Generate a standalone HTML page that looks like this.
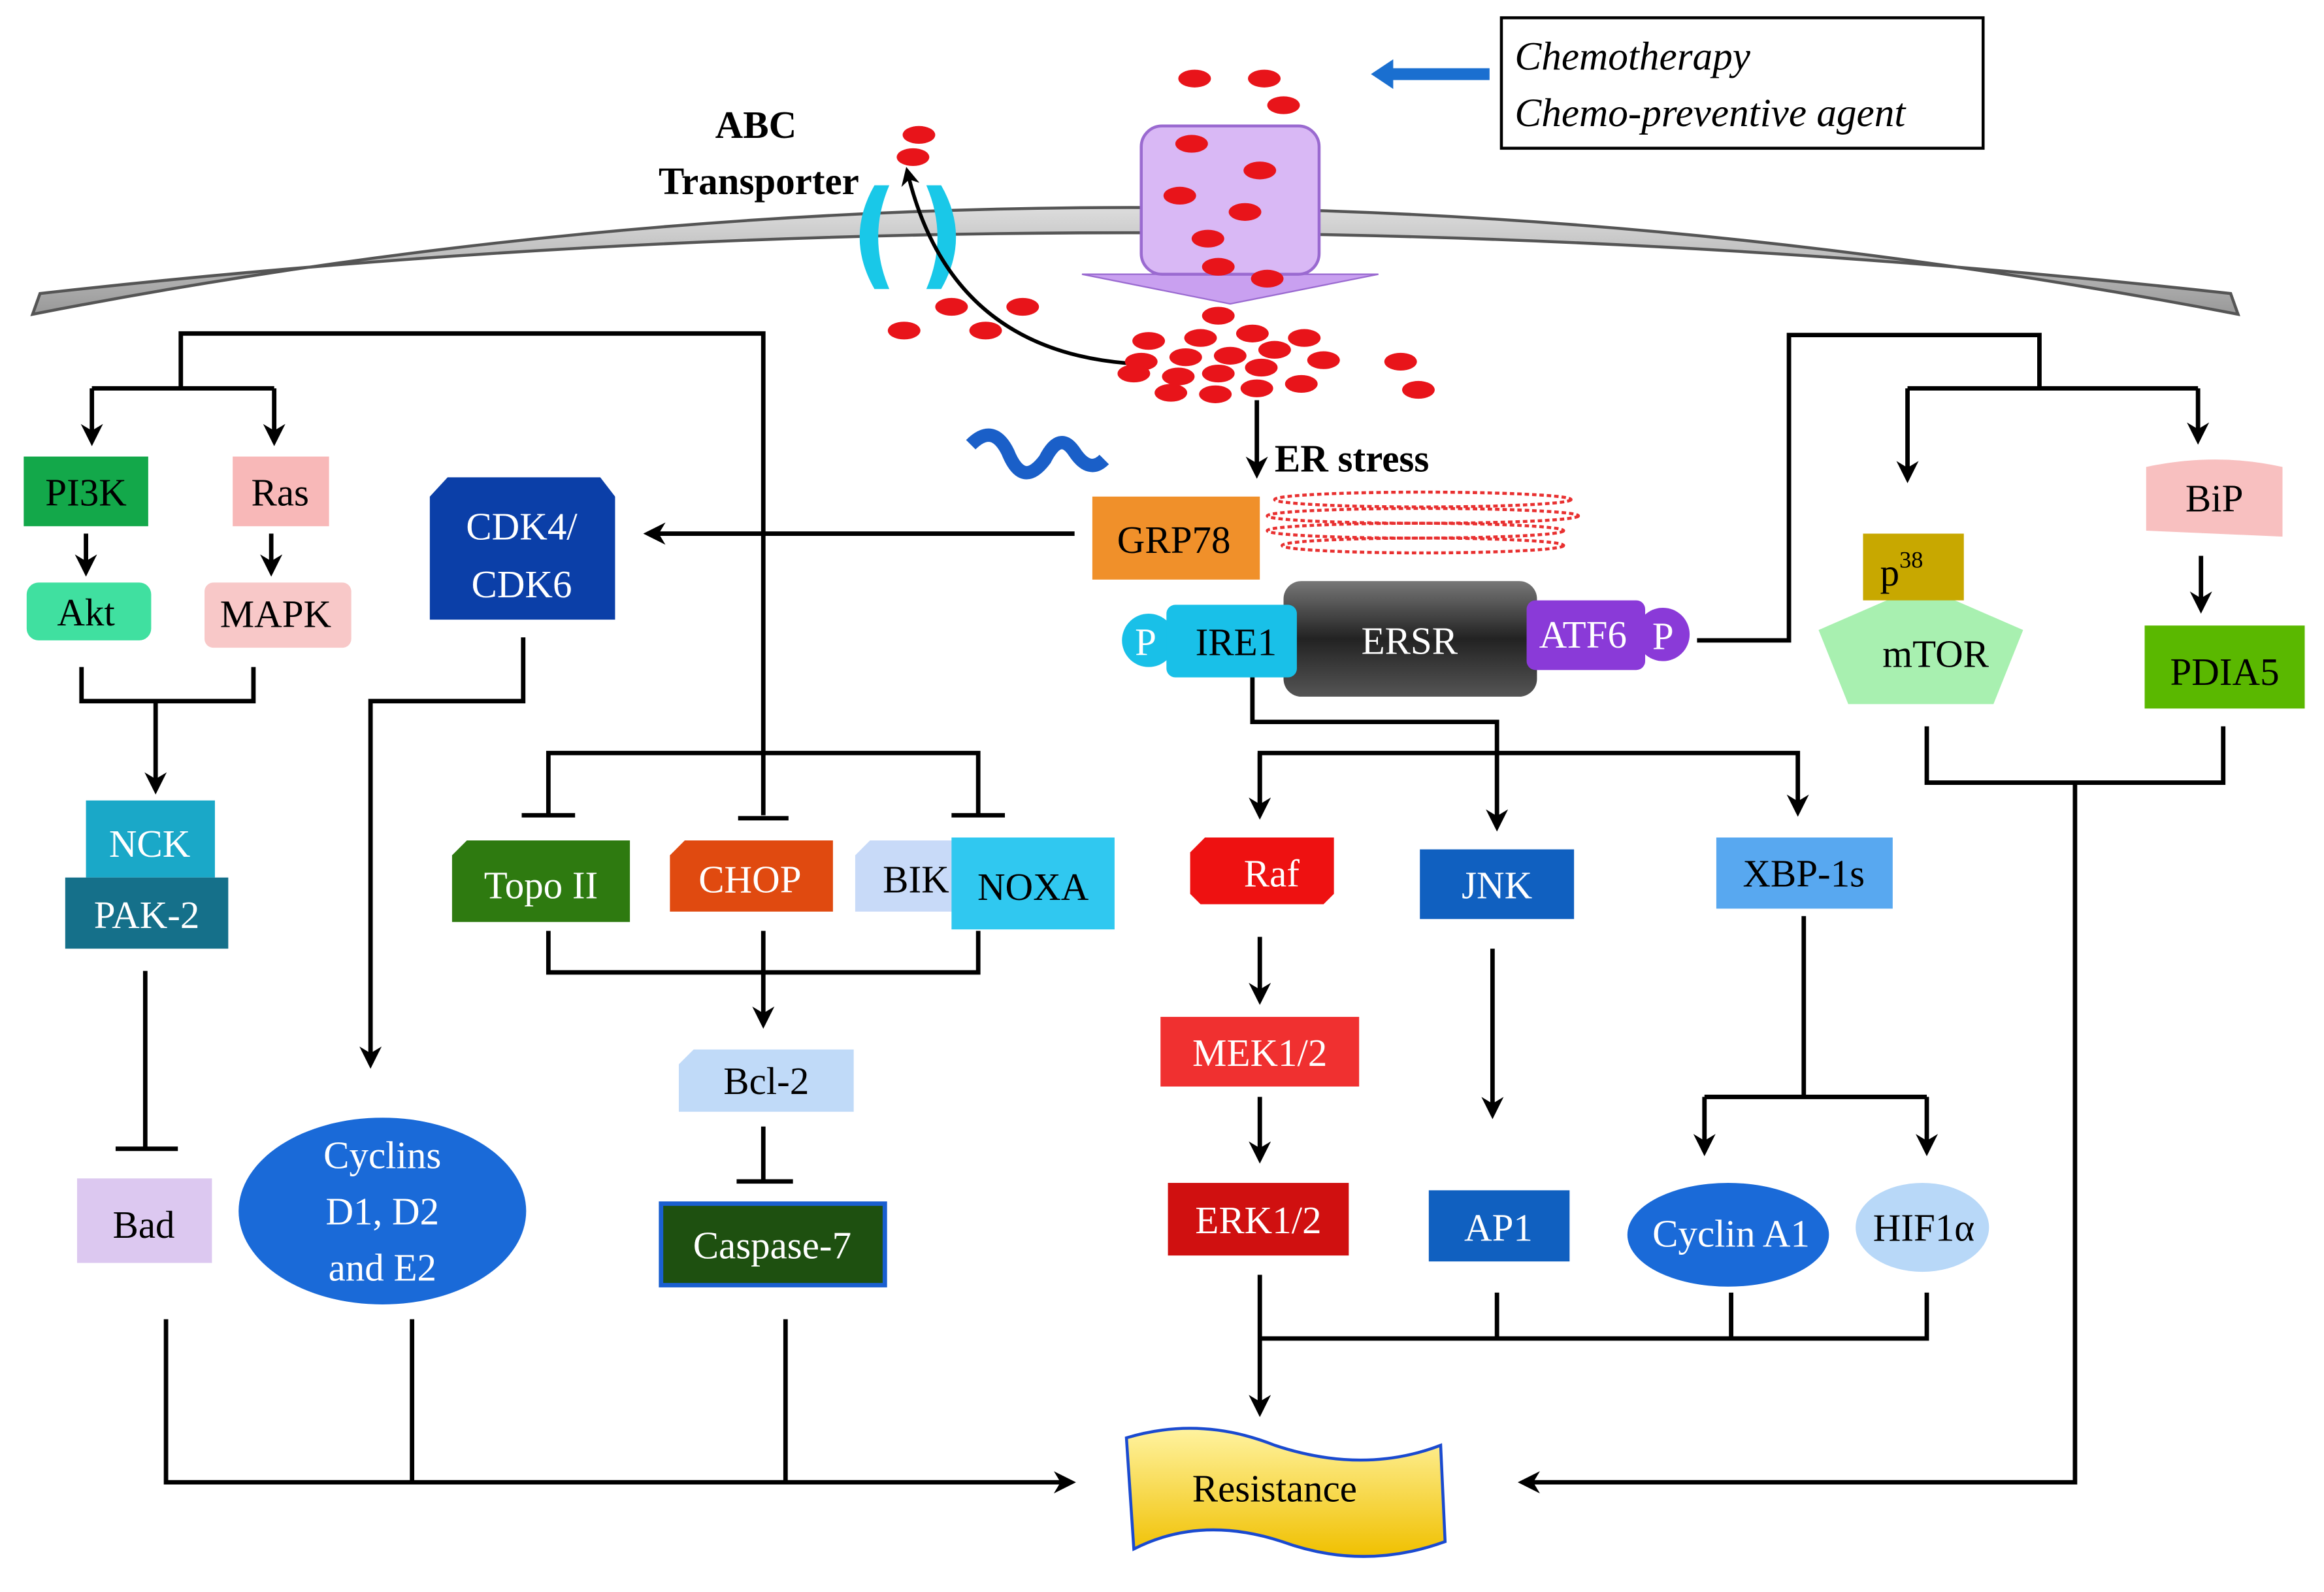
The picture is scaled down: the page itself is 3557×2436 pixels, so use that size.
<!DOCTYPE html>
<html><head><meta charset="utf-8"><style>
html,body{margin:0;padding:0;background:#fff;}
svg{display:block;}
text{font-family:"Liberation Serif",serif;}
</style></head><body>
<svg width="3557" height="2436" viewBox="0 0 1568 1074" preserveAspectRatio="none" xmlns="http://www.w3.org/2000/svg">
<defs>
<marker id="a" viewBox="0 0 10 10" refX="8" refY="5" markerWidth="5" markerHeight="5" orient="auto"><path d="M0,0 L10,5 L0,10 L3,5 z" fill="#000"/></marker>
<linearGradient id="mem" x1="0" y1="0" x2="0" y2="1"><stop offset="0" stop-color="#ddd"/><stop offset="1" stop-color="#999"/></linearGradient>
<linearGradient id="ersr" x1="0" y1="0" x2="0" y2="1"><stop offset="0" stop-color="#777"/><stop offset=".5" stop-color="#222"/><stop offset="1" stop-color="#555"/></linearGradient>
<linearGradient id="res" x1="0" y1="0" x2="0" y2="1"><stop offset="0" stop-color="#fff3a0"/><stop offset="1" stop-color="#f0c000"/></linearGradient>
</defs>
<path d="M22,212 Q760,68 1510,212 L1505,198 Q760,116 27,198 Z" fill="url(#mem)" stroke="#555" stroke-width="2"/>
<rect x="1013" y="12" width="325" height="88" fill="#fff" stroke="#000" stroke-width="2"/>
<text x="1022" y="47" font-size="27" font-style="italic">Chemotherapy</text>
<text x="1022" y="85" font-size="27" font-style="italic">Chemo-preventive agent</text>
<path d="M1005,46 L940,46 L940,40 L925,50 L940,60 L940,54 L1005,54 Z" fill="#1a6fd0"/>
<path d="M730,185 L930,185 L830,205 Z" fill="#c9a0f0" stroke="#9a6ad0"/>
<rect x="770" y="85" width="120" height="100" rx="14" fill="#d9b8f5" stroke="#9a6ad0" stroke-width="2"/>
<text x="510" y="93" font-size="26" font-weight="bold" text-anchor="middle">ABC</text>
<text x="512" y="131" font-size="26" font-weight="bold" text-anchor="middle">Transporter</text>
<path d="M590,125 Q570,160 590,195 L600,195 Q585,160 600,125 Z" fill="#19c8e8"/>
<path d="M635,125 Q655,160 635,195 L625,195 Q640,160 625,125 Z" fill="#19c8e8"/>
<path d="M760,245 Q640,235 612,115" fill="none" stroke="#000" stroke-width="2.5" marker-end="url(#a)"/>
<g fill="#e8141a">
<ellipse cx="806" cy="53" rx="11" ry="6"/><ellipse cx="853" cy="53" rx="11" ry="6"/><ellipse cx="866" cy="71" rx="11" ry="6"/>
<ellipse cx="620" cy="91" rx="11" ry="6"/><ellipse cx="616" cy="106" rx="11" ry="6"/>
<ellipse cx="804" cy="97" rx="11" ry="6"/><ellipse cx="850" cy="115" rx="11" ry="6"/><ellipse cx="796" cy="132" rx="11" ry="6"/>
<ellipse cx="840" cy="143" rx="11" ry="6"/><ellipse cx="815" cy="161" rx="11" ry="6"/><ellipse cx="822" cy="180" rx="11" ry="6"/><ellipse cx="855" cy="188" rx="11" ry="6"/>
<ellipse cx="642" cy="207" rx="11" ry="6"/><ellipse cx="690" cy="207" rx="11" ry="6"/><ellipse cx="610" cy="223" rx="11" ry="6"/><ellipse cx="665" cy="223" rx="11" ry="6"/>
<ellipse cx="822" cy="213" rx="11" ry="6"/><ellipse cx="775" cy="230" rx="11" ry="6"/><ellipse cx="810" cy="228" rx="11" ry="6"/><ellipse cx="845" cy="225" rx="11" ry="6"/><ellipse cx="880" cy="228" rx="11" ry="6"/>
<ellipse cx="770" cy="244" rx="11" ry="6"/><ellipse cx="800" cy="241" rx="11" ry="6"/><ellipse cx="830" cy="240" rx="11" ry="6"/><ellipse cx="860" cy="236" rx="11" ry="6"/>
<ellipse cx="765" cy="252" rx="11" ry="6"/><ellipse cx="795" cy="254" rx="11" ry="6"/><ellipse cx="822" cy="252" rx="11" ry="6"/><ellipse cx="851" cy="248" rx="11" ry="6"/><ellipse cx="893" cy="243" rx="11" ry="6"/>
<ellipse cx="790" cy="265" rx="11" ry="6"/><ellipse cx="820" cy="266" rx="11" ry="6"/><ellipse cx="848" cy="262" rx="11" ry="6"/><ellipse cx="878" cy="259" rx="11" ry="6"/>
<ellipse cx="945" cy="244" rx="11" ry="6"/><ellipse cx="957" cy="263" rx="11" ry="6"/>
</g>
<g fill="none" stroke="#000" stroke-width="3">
<path d="M122,262 L122,225 L515,225 L515,550"/><path d="M498,552 L532,552"/>
<path d="M62,262 L185,262"/><path d="M62,262 L62,298" marker-end="url(#a)"/><path d="M185,262 L185,298" marker-end="url(#a)"/>
<path d="M58,360 L58,386" marker-end="url(#a)"/><path d="M183,360 L183,386" marker-end="url(#a)"/>
<path d="M55,450 L55,473 L171,473 L171,450"/><path d="M105,473 L105,533" marker-end="url(#a)"/>
<path d="M98,655 L98,775"/><path d="M78,775 L120,775"/>
<path d="M725,360 L437,360" marker-end="url(#a)"/>
<path d="M353,430 L353,473 L250,473 L250,718" marker-end="url(#a)"/>
<path d="M370,550 L370,508 L660,508 L660,550"/><path d="M352,550 L388,550"/><path d="M642,550 L678,550"/>
<path d="M370,628 L370,656 L660,656 L660,628"/><path d="M515,628 L515,691" marker-end="url(#a)"/>
<path d="M515,760 L515,797"/><path d="M497,797 L535,797"/>
<path d="M112,890 L112,1000 L723,1000" marker-end="url(#a)"/><path d="M278,890 L278,1000"/><path d="M530,890 L530,1000"/>
<path d="M1300,490 L1300,528 L1500,528 L1500,490"/><path d="M1400,528 L1400,1000 L1027,1000" marker-end="url(#a)"/>
<path d="M850,860 L850,953" marker-end="url(#a)"/><path d="M850,903 L1300,903 L1300,872"/><path d="M1010,903 L1010,872"/><path d="M1168,903 L1168,872"/>
<path d="M848,270 L848,320" marker-end="url(#a)"/>
<path d="M1145,432 L1207,432 L1207,226 L1376,226 L1376,262"/><path d="M1287,262 L1483,262"/>
<path d="M1287,262 L1287,323" marker-end="url(#a)"/><path d="M1483,262 L1483,297" marker-end="url(#a)"/>
<path d="M1485,375 L1485,411" marker-end="url(#a)"/>
<path d="M845,457 L845,487 L1010,487 L1010,558" marker-end="url(#a)"/>
<path d="M850,550 L850,508 L1213,508 L1213,548" marker-end="url(#a)"/><path d="M850,508 L850,550" marker-end="url(#a)"/>
<path d="M850,632 L850,675" marker-end="url(#a)"/><path d="M850,740 L850,782" marker-end="url(#a)"/>
<path d="M1007,640 L1007,752" marker-end="url(#a)"/>
<path d="M1217,618 L1217,740"/><path d="M1150,740 L1300,740"/><path d="M1150,740 L1150,777" marker-end="url(#a)"/><path d="M1300,740 L1300,777" marker-end="url(#a)"/>
</g>
<path d="M655,300 Q670,285 680,305 Q690,330 705,310 Q715,290 725,305 Q735,320 745,310" fill="none" stroke="#1a5fc8" stroke-width="9"/>
<g fill="none" stroke="#e83030" stroke-width="2" stroke-dasharray="3,2">
<ellipse cx="960" cy="337" rx="100" ry="5"/><ellipse cx="960" cy="348" rx="105" ry="5"/><ellipse cx="955" cy="358" rx="100" ry="5"/><ellipse cx="960" cy="368" rx="95" ry="5"/>
</g>
<text x="860" y="318" font-size="26" font-weight="bold">ER stress</text>
<g font-size="26" text-anchor="middle">
<rect x="16" y="308" width="84" height="47" fill="#13a84a"/><text x="58" y="341">PI3K</text>
<rect x="157" y="308" width="65" height="47" fill="#f8b8b8"/><text x="189" y="341">Ras</text>
<rect x="18" y="393" width="84" height="39" rx="8" fill="#40e0a0"/><text x="58" y="422">Akt</text>
<rect x="138" y="393" width="99" height="44" rx="6" fill="#f8c8c8"/><text x="186" y="423">MAPK</text>
<rect x="58" y="540" width="87" height="52" fill="#1aa8c8"/><text x="101" y="578" fill="#fff">NCK</text>
<rect x="44" y="592" width="110" height="48" fill="#15708a"/><text x="99" y="626" fill="#fff">PAK-2</text>
<rect x="52" y="795" width="91" height="57" fill="#dcc8f0"/><text x="97" y="835">Bad</text>
<path d="M302,322 L405,322 L415,335 L415,418 L290,418 L290,335 Z" fill="#0b3fa8"/><text x="352" y="364" fill="#fff">CDK4/</text><text x="352" y="403" fill="#fff">CDK6</text>
<ellipse cx="258" cy="817" rx="97" ry="63" fill="#1a6ad8"/><text x="258" y="788" fill="#fff">Cyclins</text><text x="258" y="826" fill="#fff">D1, D2</text><text x="258" y="864" fill="#fff">and E2</text>
<path d="M315,567 L425,567 L425,622 L305,622 L305,577 Z" fill="#2e7a10"/><text x="365" y="606" fill="#fff">Topo II</text>
<path d="M462,567 L562,567 L562,615 L452,615 L452,577 Z" fill="#e04a10"/><text x="506" y="602" fill="#fff">CHOP</text>
<path d="M587,567 L645,567 L645,615 L577,615 L577,577 Z" fill="#c8daf8"/><text x="618" y="602">BIK</text>
<rect x="642" y="565" width="110" height="62" fill="#30c8f0"/><text x="697" y="607">NOXA</text>
<path d="M468,708 L576,708 L576,750 L458,750 L458,718 Z" fill="#c0daf8"/><text x="517" y="738">Bcl-2</text>
<rect x="446" y="812" width="151" height="55" fill="#1e5010" stroke="#1a5fd0" stroke-width="3"/><text x="521" y="849" fill="#fff">Caspase-7</text>
<path d="M760,970 Q810,955 860,975 Q920,995 972,975 L975,1040 Q920,1060 865,1040 Q810,1022 765,1045 Z" fill="url(#res)" stroke="#1a4ad0" stroke-width="2"/><text x="860" y="1013">Resistance</text>
<rect x="737" y="335" width="113" height="56" fill="#f0902a"/><text x="792" y="373">GRP78</text>
<rect x="866" y="392" width="171" height="78" rx="12" fill="url(#ersr)"/><text x="951" y="441" fill="#fff">ERSR</text>
<circle cx="775" cy="432" r="18" fill="#19c0e8"/><text x="773" y="442" fill="#fff">P</text>
<rect x="787" y="408" width="88" height="49" rx="6" fill="#19c0e8"/><text x="834" y="442">IRE1</text>
<circle cx="1122" cy="428" r="18" fill="#8a3ad8"/><text x="1122" y="438" fill="#fff">P</text>
<rect x="1030" y="405" width="80" height="47" rx="6" fill="#8a3ad8"/><text x="1068" y="437" fill="#fff">ATF6</text>
<path d="M1227,425 L1296,395 L1365,425 L1345,475 L1247,475 Z" fill="#a8f0b0"/><text x="1306" y="450">mTOR</text>
<rect x="1257" y="360" width="68" height="45" fill="#c8a800"/><text x="1283" y="395">p<tspan font-size="16" dy="-12">38</tspan></text>
<path d="M1448,315 Q1495,305 1540,315 L1540,362 L1448,358 Z" fill="#f8c0c0"/><text x="1494" y="345">BiP</text>
<rect x="1447" y="422" width="108" height="56" fill="#5ab800"/><text x="1501" y="462">PDIA5</text>
<path d="M813,565 L900,565 L900,603 L893,610 L810,610 L803,603 L803,575 Z" fill="#ee1111"/><text x="858" y="598" fill="#fff">Raf</text>
<rect x="958" y="573" width="104" height="47" fill="#1060c0"/><text x="1010" y="606" fill="#fff">JNK</text>
<rect x="1158" y="565" width="119" height="48" fill="#58a8f0"/><text x="1217" y="598">XBP-1s</text>
<rect x="783" y="686" width="134" height="47" fill="#f03030"/><text x="850" y="719" fill="#fff">MEK1/2</text>
<rect x="788" y="798" width="122" height="49" fill="#d01010"/><text x="849" y="832" fill="#fff">ERK1/2</text>
<rect x="964" y="803" width="95" height="48" fill="#1060c0"/><text x="1011" y="837" fill="#fff">AP1</text>
<ellipse cx="1166" cy="833" rx="68" ry="35" fill="#1a6ad8"/><text x="1168" y="841" fill="#fff">Cyclin A1</text>
<ellipse cx="1297" cy="828" rx="45" ry="30" fill="#b8d8f8"/><text x="1298" y="837">HIF1α</text>
</g>
</svg>
</body></html>
